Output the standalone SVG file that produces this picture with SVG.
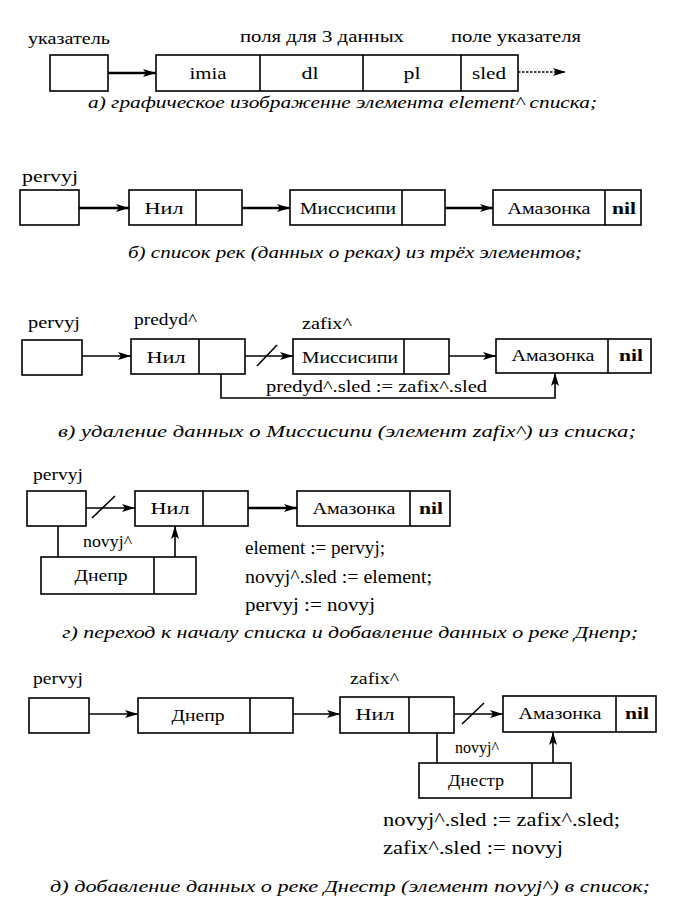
<svg xmlns="http://www.w3.org/2000/svg" width="696" height="902" viewBox="0 0 696 902">
<defs>
<marker id="ah" viewBox="0 0 13 8" refX="13" refY="4" markerWidth="13" markerHeight="8" markerUnits="userSpaceOnUse" orient="auto">
<path d="M0,0 L13,4 L0,8 L3,4 Z" fill="#000"/>
</marker>
<style>
.box, .div { fill: #fff; stroke: #000; stroke-width: 1.6; }
.div { fill: none; }
.c { fill: none; stroke: #000; stroke-width: 1.6; }
.thick { stroke-width: 2.4; }
.ar { marker-end: url(#ah); }
text { font-family: "Liberation Serif", "Times New Roman", serif; font-size: 17px; fill: #000; }
.m { text-anchor: middle; }
.b { font-weight: bold; }
.cap { font-style: italic; font-size: 16.5px; }
.code { font-size: 18px; }
</style>
</defs>
<rect x="0" y="0" width="696" height="902" fill="#fff"/>

<!-- Section a -->
<g id="a-labels">
<text x="28" y="44" textLength="82" lengthAdjust="spacingAndGlyphs">указатель</text>
<text x="240" y="42" textLength="164" lengthAdjust="spacingAndGlyphs">поля для 3 данных</text>
<text x="451" y="42" textLength="130" lengthAdjust="spacingAndGlyphs">поле указателя</text>
</g>
<g id="a-pointer"><rect class="box" x="50" y="55" width="58" height="36"/></g>
<g id="a-element">
<rect class="box" x="156" y="55" width="362" height="36"/>
<line class="div" x1="260" y1="55" x2="260" y2="91"/>
<line class="div" x1="363" y1="55" x2="363" y2="91"/>
<line class="div" x1="461" y1="55" x2="461" y2="91"/>
<text class="m" x="208" y="79" textLength="37" lengthAdjust="spacingAndGlyphs">imia</text>
<text class="m" x="310" y="79" textLength="17" lengthAdjust="spacingAndGlyphs">dl</text>
<text class="m" x="412" y="79" textLength="17" lengthAdjust="spacingAndGlyphs">pl</text>
<text class="m" x="489" y="79" textLength="34" lengthAdjust="spacingAndGlyphs">sled</text>
</g>
<g id="a-connectors">
<line class="c thick ar" x1="108" y1="73" x2="156" y2="73"/>
<line class="c ar" x1="518" y1="72" x2="566" y2="72" stroke-dasharray="2.5,1.5"/>
</g>
<text class="cap" x="88" y="108" textLength="509" lengthAdjust="spacingAndGlyphs">а) графическое изображенне элемента element^ списка;</text>

<!-- Section b -->
<text x="22" y="182" textLength="56" lengthAdjust="spacingAndGlyphs">pervyj</text>
<g id="b-pointer"><rect class="box" x="20" y="190" width="59" height="35"/></g>
<g id="b-nil"><rect class="box" x="129" y="190" width="113" height="35"/><line class="div" x1="196" y1="190" x2="196" y2="225"/><text class="m" x="164" y="214" textLength="39" lengthAdjust="spacingAndGlyphs">Нил</text></g>
<g id="b-miss"><rect class="box" x="290" y="190" width="155" height="35"/><line class="div" x1="402" y1="190" x2="402" y2="225"/><text class="m" x="348" y="214" textLength="96" lengthAdjust="spacingAndGlyphs">Миссисипи</text></g>
<g id="b-amaz"><rect class="box" x="493" y="190" width="148" height="35"/><line class="div" x1="605" y1="190" x2="605" y2="225"/><text class="m" x="549" y="214" textLength="83" lengthAdjust="spacingAndGlyphs">Амазонка</text><text class="m b" x="624" y="214" textLength="24" lengthAdjust="spacingAndGlyphs">nil</text></g>
<g id="b-connectors">
<line class="c thick ar" x1="79" y1="208" x2="129" y2="208"/>
<line class="c thick ar" x1="242" y1="208" x2="290" y2="208"/>
<line class="c thick ar" x1="445" y1="208" x2="493" y2="208"/>
</g>
<text class="cap" x="128" y="258" textLength="454" lengthAdjust="spacingAndGlyphs">б) список рек (данных о реках) из трёх элементов;</text>

<!-- Section c -->
<text x="28" y="328" textLength="52" lengthAdjust="spacingAndGlyphs">pervyj</text>
<text x="134" y="325" textLength="63" lengthAdjust="spacingAndGlyphs">predyd^</text>
<text x="302" y="329" textLength="50" lengthAdjust="spacingAndGlyphs">zafix^</text>
<g id="c-pointer"><rect class="box" x="22" y="340" width="60" height="35"/></g>
<g id="c-nil"><rect class="box" x="131" y="339" width="114" height="35"/><line class="div" x1="199" y1="339" x2="199" y2="374"/><text class="m" x="166" y="363" textLength="39" lengthAdjust="spacingAndGlyphs">Нил</text></g>
<g id="c-miss"><rect class="box" x="293" y="339" width="156" height="35"/><line class="div" x1="404" y1="339" x2="404" y2="374"/><text class="m" x="350" y="363" textLength="96" lengthAdjust="spacingAndGlyphs">Миссисипи</text></g>
<g id="c-amaz"><rect class="box" x="496" y="339" width="155" height="34"/><line class="div" x1="608" y1="339" x2="608" y2="373"/><text class="m" x="553" y="361" textLength="83" lengthAdjust="spacingAndGlyphs">Амазонка</text><text class="m b" x="631" y="361" textLength="24" lengthAdjust="spacingAndGlyphs">nil</text></g>
<g id="c-connectors">
<line class="c ar" x1="82" y1="356" x2="131" y2="356"/>
<line class="c ar" x1="245" y1="356" x2="293" y2="356"/>
<line class="c" x1="257" y1="366" x2="277" y2="345"/>
<line class="c ar" x1="449" y1="356" x2="496" y2="356"/>
<polyline class="c ar" points="221,374 221,398 555,398 555,373"/>
</g>
<text x="266" y="392" textLength="221" lengthAdjust="spacingAndGlyphs">predyd^.sled := zafix^.sled</text>
<text class="cap" x="58" y="437" textLength="578" lengthAdjust="spacingAndGlyphs">в) удаление данных о Миссисипи (элемент zafix^) из списка;</text>

<!-- Section d -->
<text x="33" y="480" textLength="50" lengthAdjust="spacingAndGlyphs">pervyj</text>
<g id="d-pointer"><rect class="box" x="27" y="491" width="59" height="35"/></g>
<g id="d-nil"><rect class="box" x="135" y="491" width="113" height="35"/><line class="div" x1="203" y1="491" x2="203" y2="526"/><text class="m" x="170" y="514" textLength="39" lengthAdjust="spacingAndGlyphs">Нил</text></g>
<g id="d-amaz"><rect class="box" x="297" y="491" width="153" height="35"/><line class="div" x1="410" y1="491" x2="410" y2="526"/><text class="m" x="354" y="514" textLength="83" lengthAdjust="spacingAndGlyphs">Амазонка</text><text class="m b" x="431" y="514" textLength="24" lengthAdjust="spacingAndGlyphs">nil</text></g>
<g id="d-dnepr"><rect class="box" x="41" y="557" width="155" height="37"/><line class="div" x1="154" y1="557" x2="154" y2="594"/><text class="m" x="101" y="581" textLength="53" lengthAdjust="spacingAndGlyphs">Днепр</text></g>
<g id="d-connectors">
<line class="c ar" x1="86" y1="508" x2="135" y2="508"/>
<line class="c" x1="92" y1="518" x2="115" y2="496"/>
<line class="c thick ar" x1="248" y1="508" x2="297" y2="508"/>
<line class="c" x1="58" y1="526" x2="58" y2="557"/>
<line class="c ar" x1="175" y1="557" x2="175" y2="526"/>
</g>
<text x="83" y="547" textLength="49" lengthAdjust="spacingAndGlyphs">novyj^</text>
<text class="code" x="245" y="554" textLength="140" lengthAdjust="spacingAndGlyphs">element := pervyj;</text>
<text class="code" x="245" y="583" textLength="187" lengthAdjust="spacingAndGlyphs">novyj^.sled := element;</text>
<text class="code" x="245" y="611" textLength="130" lengthAdjust="spacingAndGlyphs">pervyj := novyj</text>
<text class="cap" x="62" y="638" textLength="576" lengthAdjust="spacingAndGlyphs">г) переход к началу списка и добавление данных о реке Днепр;</text>

<!-- Section e -->
<text x="33" y="684" textLength="50" lengthAdjust="spacingAndGlyphs">pervyj</text>
<text x="350" y="684" textLength="49" lengthAdjust="spacingAndGlyphs">zafix^</text>
<g id="e-pointer"><rect class="box" x="29" y="698" width="60" height="35"/></g>
<g id="e-dnepr"><rect class="box" x="138" y="698" width="155" height="35"/><line class="div" x1="250" y1="698" x2="250" y2="733"/><text class="m" x="198" y="721" textLength="53" lengthAdjust="spacingAndGlyphs">Днепр</text></g>
<g id="e-nil"><rect class="box" x="340" y="697" width="114" height="36"/><line class="div" x1="409" y1="697" x2="409" y2="733"/><text class="m" x="375" y="720" textLength="39" lengthAdjust="spacingAndGlyphs">Нил</text></g>
<g id="e-amaz"><rect class="box" x="503" y="696" width="153" height="36"/><line class="div" x1="616" y1="696" x2="616" y2="732"/><text class="m" x="560" y="719" textLength="83" lengthAdjust="spacingAndGlyphs">Амазонка</text><text class="m b" x="637" y="719" textLength="24" lengthAdjust="spacingAndGlyphs">nil</text></g>
<g id="e-dnestr"><rect class="box" x="419" y="763" width="152" height="35"/><line class="div" x1="532" y1="763" x2="532" y2="798"/><text class="m" x="476" y="786" textLength="56" lengthAdjust="spacingAndGlyphs">Днестр</text></g>
<g id="e-connectors">
<line class="c ar" x1="89" y1="714" x2="138" y2="714"/>
<line class="c ar" x1="293" y1="714" x2="340" y2="714"/>
<line class="c ar" x1="454" y1="714" x2="503" y2="714"/>
<line class="c" x1="462" y1="724" x2="484" y2="703"/>
<line class="c" x1="437" y1="733" x2="437" y2="763"/>
<line class="c ar" x1="553" y1="763" x2="553" y2="732"/>
</g>
<text x="455" y="753" textLength="44" lengthAdjust="spacingAndGlyphs">novyj^</text>
<text class="code" x="383" y="826" textLength="237" lengthAdjust="spacingAndGlyphs">novyj^.sled := zafix^.sled;</text>
<text class="code" x="383" y="854" textLength="180" lengthAdjust="spacingAndGlyphs">zafix^.sled := novyj</text>
<text class="cap" x="50" y="892" textLength="600" lengthAdjust="spacingAndGlyphs">д) добавление данных о реке Днестр (элемент novyj^) в список;</text>
</svg>
